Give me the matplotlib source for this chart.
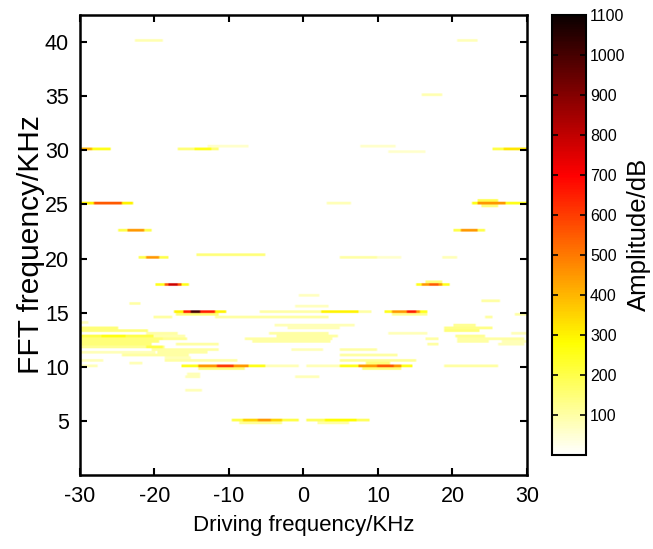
#!/usr/bin/env python3
"""FFT spectrum vs. driving frequency map (hot colour scale)."""

import numpy as np
import matplotlib
matplotlib.use("Agg")
import matplotlib.pyplot as plt
from matplotlib import font_manager

# streaks: (fft_khz, drive_start_khz, drive_end_khz, amplitude_db)
harmonic_streaks = [
    (40.0, -22.6, -18.9, 90), (40.0, 20.7, 23.4, 80),
    (35.0, 16.0, 18.7, 90),
    (30.0, -30.0, -25.8, 250), (30.0, -30.0, -28.5, 400),
    (30.0, -16.8, -11.5, 150), (30.0, -14.5, -12.5, 250),
    (30.0, 25.3, 30.0, 200), (30.0, 27.0, 30.0, 320),
    (30.25, -12.8, -7.4, 60), (30.25, 7.7, 12.3, 60), (29.75, 11.3, 16.4, 60),
    (25.0, -30.0, -22.9, 300), (25.0, -28.0, -24.5, 550),
    (25.0, 3.2, 6.4, 80),
    (25.0, 22.6, 30.0, 250), (25.0, 23.5, 27.0, 450),
    (25.25, 23.5, 26.0, 200), (24.75, 24.0, 26.0, 150),
    (22.5, -24.9, -20.3, 200), (22.5, -23.5, -21.5, 450),
    (22.5, 20.1, 24.4, 200), (22.5, 21.2, 23.3, 450),
    (20.0, -22.2, -18.2, 200), (20.0, -21.0, -19.5, 450),
    (20.25, -14.3, -5.2, 150), (20.0, 4.9, 9.9, 100), (20.0, 9.9, 13.0, 60),
    (20.0, 18.7, 20.7, 80),
    (17.5, -19.8, -15.5, 250), (17.5, -18.5, -16.5, 550), (17.5, -18.0, -17.0, 780),
    (17.5, 15.1, 19.5, 250), (17.5, 16.0, 18.5, 450), (17.5, 17.0, 18.0, 550),
    (17.75, 16.5, 18.5, 150),
    (15.0, -17.4, -10.5, 300), (15.0, -16.0, -12.0, 650), (15.0, -15.2, -13.8, 1000),
    (15.0, 10.8, 16.7, 250), (15.0, 12.0, 15.5, 450), (15.0, 13.8, 15.0, 650),
    (15.0, -5.8, 9.2, 100), (15.0, 2.3, 7.3, 300),
    (14.75, -17.0, -11.5, 150), (14.75, 12.0, 16.5, 120),
    (10.0, -16.4, -5.2, 250), (10.0, -14.0, -7.5, 450), (10.0, -11.5, -9.5, 600),
    (10.0, -5.2, -0.7, 80), (10.0, 0.5, 4.9, 80),
    (10.0, 4.9, 14.7, 250), (10.0, 7.5, 13.0, 450), (10.0, 10.0, 12.0, 550),
    (10.0, 18.9, 26.0, 100),
    (9.75, -14.0, -8.0, 150), (9.75, 8.0, 13.0, 150),
    (5.0, -9.5, -0.7, 200), (5.0, -8.0, -3.0, 350), (5.0, -6.0, -4.5, 450),
    (5.0, 0.5, 8.8, 180), (5.0, 3.0, 7.0, 280),
    (4.75, -8.5, -3.0, 120), (4.75, 2.0, 6.0, 100),
]

faint_streaks = [
    (9.25, -15.5, -13.9, 80), (9.0, -15.8, -14.0, 80), (7.75, -15.9, -13.6, 80),
    (9.0, -1.1, 2.0, 80), (16.5, -0.7, 2.2, 70), (15.5, -1.1, 3.3, 70),
    (16.0, 24.0, 26.4, 100), (15.75, -23.3, -22.0, 100),
    (14.5, -20.1, -17.7, 100), (14.5, -11.9, 3.3, 100), (14.5, 24.4, 25.4, 100),
    (14.75, 28.4, 30.0, 100),
    (14.0, -30.0, -29.0, 80),
    (13.75, -3.8, 6.9, 80), (13.75, 20.1, 23.0, 120),
    (13.5, -30.0, -24.9, 150), (13.5, 19.0, 25.3, 130), (13.5, -2.1, 4.9, 80),
    (13.25, -30.0, -23.6, 150), (13.25, -24.4, -21.0, 150), (13.25, 19.0, 23.7, 150),
    (13.0, -21.0, -16.8, 100), (13.0, -4.5, 3.3, 100), (13.0, 11.3, 16.7, 80),
    (13.0, 28.0, 30.0, 80),
    (12.75, -30.0, -20.2, 200), (12.75, -27.0, -24.0, 260), (12.75, -20.2, -15.8, 90),
    (12.75, -3.6, 4.6, 100), (12.75, 20.3, 24.4, 120),
    (12.5, -24.4, -15.6, 120), (12.5, 20.6, 29.7, 100),
    (12.5, -30.0, -18.9, 150), (12.5, -7.8, 3.8, 100), (12.5, 16.3, 18.0, 100),
    (12.25, -30.0, -19.3, 150), (12.25, -6.9, 3.6, 100), (12.25, 20.7, 24.8, 100),
    (12.25, 26.7, 30.0, 80),
    (12.0, -30.0, -20.3, 150), (12.0, -17.2, -11.5, 100), (12.0, 16.6, 18.0, 100),
    (12.0, 26.1, 29.5, 80),
    (11.75, -30.0, -18.6, 120), (11.75, -21.0, -19.0, 200),
    (11.5, -20.3, -11.5, 100), (11.5, -1.5, 2.6, 80), (11.5, 4.9, 9.9, 100),
    (11.25, -30.0, -19.9, 80), (11.25, -19.5, -12.8, 100),
    (11.0, -24.4, -15.5, 100), (11.0, 4.9, 12.6, 100),
    (10.75, -18.6, -15.2, 80),
    (10.5, -30.0, -26.8, 80), (10.5, -18.6, -8.8, 100), (10.5, 4.9, 15.0, 120),
    (10.25, 8.3, 11.6, 150), (10.25, -23.4, -21.7, 80),
    (10.0, -30.0, -27.6, 80),
]

drive_khz = np.arange(-30.0, 30.001, 0.25)
fft_khz = np.arange(0.0, 42.501, 0.125)
cbar_ticks = [100, 200, 300, 400, 500, 600, 700, 800, 900, 1000, 1100]

names = {f.name for f in font_manager.fontManager.ttflist}
family = ["Liberation Sans Narrow", "Liberation Sans"]
family = [f for f in family if f in names] or ["DejaVu Sans"]
plt.rcParams["font.family"] = family
plt.rcParams["axes.unicode_minus"] = False

# rasterise the streaks onto the frequency grid (each streak ~0.25 kHz thick)
amp = np.zeros((len(fft_khz), len(drive_khz)))
for y, x0, x1, a in faint_streaks + harmonic_streaks:
    rows = (fft_khz >= y - 0.07) & (fft_khz <= y + 0.13)
    cols = (drive_khz >= x0 - 1e-9) & (drive_khz <= x1 + 1e-9)
    block = amp[np.ix_(rows, cols)]
    amp[np.ix_(rows, cols)] = np.maximum(block, a)

fig = plt.figure(figsize=(6.53, 5.49), dpi=100)
ax = fig.add_axes([0.1225, 0.1348, 0.6845, 0.8379])
cax = fig.add_axes([0.8453, 0.1712, 0.052, 0.8015])

dx, dy = 0.125, 0.0625
im = ax.imshow(amp, origin="lower", aspect="auto", cmap="hot_r",
               vmin=0, vmax=1100, interpolation="bilinear",
               extent=[drive_khz[0] - dx, drive_khz[-1] + dx,
                       fft_khz[0] - dy, fft_khz[-1] + dy])
ax.set_xlim(-30, 30)
ax.set_ylim(0, 42.5)
ax.set_xticks([-30, -20, -10, 0, 10, 20, 30])
ax.set_yticks([5, 10, 15, 20, 25, 30, 35, 40])
ax.tick_params(direction="in", length=5, width=1.5, labelsize=15.5,
               top=True, right=True, pad=8)
for s in ax.spines.values():
    s.set_linewidth(1.8)
ax.set_xlabel("Driving frequency/KHz", fontsize=16, labelpad=6)
ax.set_ylabel("FFT frequency/KHz", fontsize=21.5, labelpad=0)

cb = fig.colorbar(im, cax=cax, ticks=cbar_ticks)
cb.ax.tick_params(direction="in", length=4, width=1.2, labelsize=11.5,
                  left=True, right=True, pad=3)
cb.outline.set_linewidth(1.5)
fig.text(639 / 653, 1 - 234 / 549, "Amplitude/dB", fontsize=18.5,
         rotation=90, ha="center", va="center")

plt.savefig("out.png", dpi=100)
